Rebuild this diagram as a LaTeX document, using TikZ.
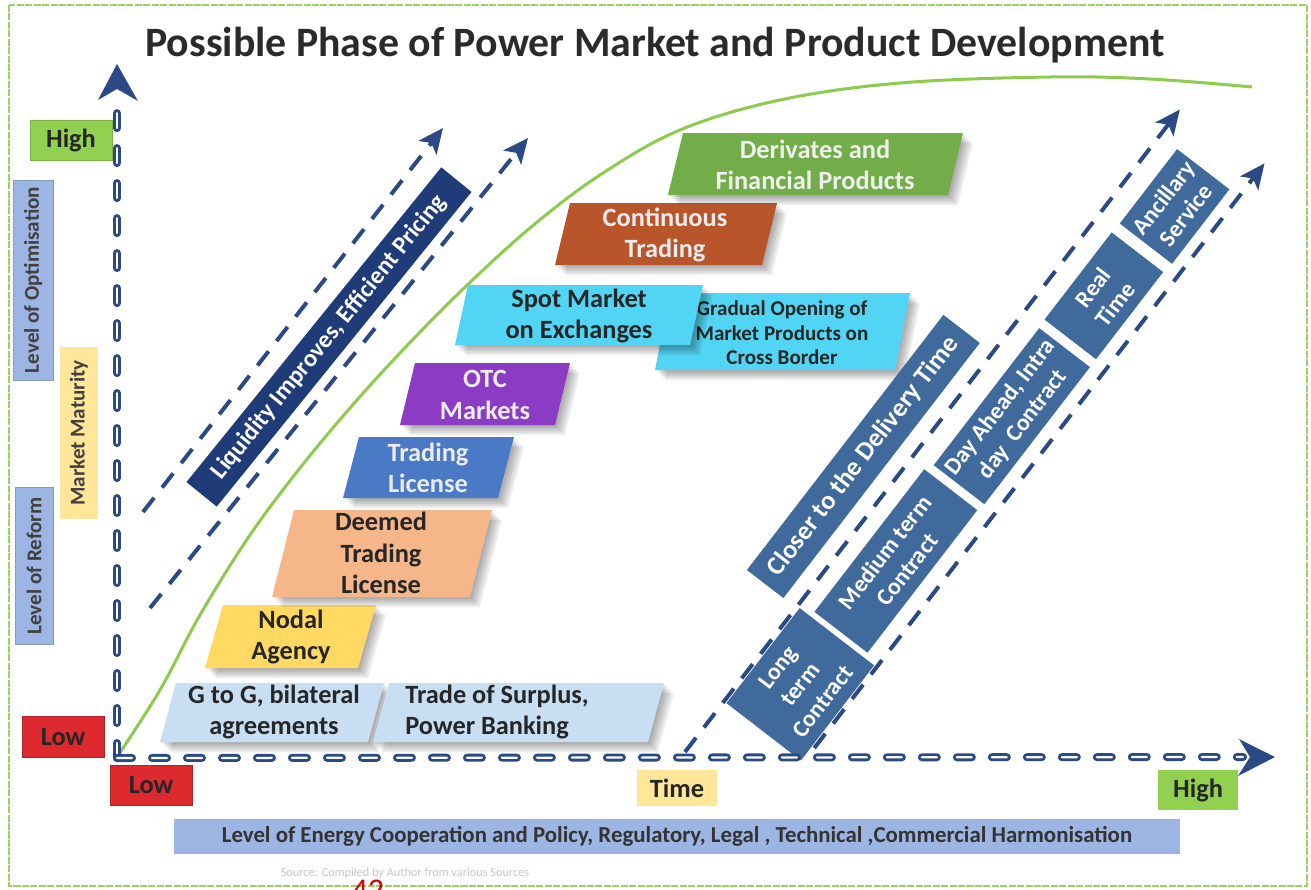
\documentclass[tikz,border=0pt]{standalone}
\usepackage{fontspec}
\setmainfont{Carlito}
\usetikzlibrary{arrows.meta,calc}

\definecolor{navy}{HTML}{2B4A85}
\definecolor{liqnavy}{HTML}{1F3C78}
\definecolor{bandblue}{HTML}{416A9C}
\definecolor{titlegray}{HTML}{2A2A2A}
\definecolor{txtdark}{HTML}{262626}
\definecolor{curvegreen}{HTML}{8CCB4B}
\definecolor{framegreen}{HTML}{9BD35E}
\definecolor{hiGreen}{HTML}{92D050}
\definecolor{loRed}{HTML}{DE2A2E}
\definecolor{paleYellow}{HTML}{FFE699}
\definecolor{periwinkle}{HTML}{9DB5E2}
\definecolor{iceBlue}{HTML}{C8DEF2}
\definecolor{nodalYellow}{HTML}{FFD961}
\definecolor{peach}{HTML}{F5B68A}
\definecolor{licBlue}{HTML}{4A79C6}
\definecolor{otcPurple}{HTML}{8C3CC4}
\definecolor{spotCyan}{HTML}{52D5F4}
\definecolor{rust}{HTML}{B8552B}
\definecolor{leafGreen}{HTML}{72AD49}

\tikzset{
  tag/.style={font=\bfseries\fontsize{15}{17}\selectfont, text=txtdark, inner sep=0pt},
  sidetag/.style={font=\bfseries\fontsize{12}{14}\selectfont, text=black!75, inner sep=0pt, rotate=90},
  boxtext/.style={font=\bfseries\fontsize{15}{18}\selectfont, align=center, inner sep=0pt},
  shadowlayer/.style={black, opacity=0.07},
  axisline/.style={line width=0.16cm, navy, line cap=round, dash pattern=on 0.30cm off 0.40cm},
  axiscore/.style={line width=0.045cm, white, line cap=round, dash pattern=on 0.30cm off 0.40cm},
  diagdash/.style={line width=0.08cm, navy, dash pattern=on 0.36cm off 0.26cm,
    -{Stealth[length=0.5cm, width=0.45cm, inset=0.12cm]}},
  bandtext/.style={font=\bfseries\fontsize{13.5}{16}\selectfont, text=white, align=center, inner sep=0pt, rotate=52.4},
}

% slanted box with a soft layered shadow:
% name, fill, x bottom-left, x bottom-right, y top, y bottom, slant
\newcommand\slantbox[7]{%
  \foreach \d in {2,4,6,8,10}{%
    \fill[shadowlayer] (#3+#7+\d,#5+\d) -- (#4+#7+\d,#5+\d) -- (#4+\d,#6+\d) -- (#3+\d,#6+\d) -- cycle;
  }
  \fill[#2] (#3+#7,#5) -- (#4+#7,#5) -- (#4,#6) -- (#3,#6) -- cycle;
}

\begin{document}
\begin{tikzpicture}[x=0.02cm, y=-0.02cm]
\useasboundingbox (0,0) rectangle (1311,889);
\fill[white] (0,0) rectangle (1311,889);
\draw[framegreen, line width=0.7pt, dash pattern=on 4pt off 0.8pt] (9,5) rectangle (1307,886);

% title
\node[font=\bfseries\fontsize{23.8}{28}\selectfont, text=titlegray] (title) at (655,45)
  {Possible Phase of Power Market and Product Development};

% maturity curve
\draw[curvegreen, line width=0.06cm] plot[smooth, tension=0.6] coordinates {
  (117,757) (160,690) (200,615) (250,535) (300,468) (350,408) (400,353)
  (460,292) (530,228) (600,175) (680,130) (780,100) (900,83) (1050,77)
  (1150,79) (1252,87)};

% liquidity band
\coordinate (la0) at (143,512);
\coordinate (la1) at (443,128);
\coordinate (lb0) at (150,608);
\coordinate (lb1) at (528,138);
\draw[diagdash] (la0) -- (la1);
\draw[diagdash] (lb0) -- (lb1);
\node[fill=liqnavy, text=white, rotate=51, minimum width=8.1cm, minimum height=0.78cm,
  font=\bfseries\fontsize{14}{16}\selectfont, inner sep=0pt] (liq) at (329,337)
  {Liquidity Improves, Efficient Pricing};

% market development steps
\slantbox{gtog}{iceBlue}{160}{368}{683}{742}{16}
\slantbox{surplus}{iceBlue}{373}{648}{683}{742}{16}
\node[boxtext, text=txtdark] (gtogt) at (274,712) {G to G, bilateral\\agreements};
\node[boxtext, text=txtdark, align=left, anchor=west] (surplust) at (405,712) {Trade of Surplus,\\Power Banking};

\slantbox{nodal}{nodalYellow}{205}{358}{605}{668}{18}
\node[boxtext, text=txtdark] (nodalt) at (291,637) {Nodal\\Agency};

\slantbox{deemed}{peach}{272}{470}{510}{597}{22}
\node[boxtext, text=txtdark] (deemedt) at (381,553) {Deemed\\Trading\\License};

\slantbox{lic}{licBlue}{343}{498}{437}{498}{16}
\node[boxtext, text=white!92!black] (lict) at (428,468) {Trading\\License};

\slantbox{otc}{otcPurple}{400}{555}{363}{425}{15}
\node[boxtext, text=white!92!black] (otct) at (485,395) {OTC\\Markets};

\slantbox{gradual}{spotCyan}{655}{895}{293}{370}{15}
\node[boxtext, text=txtdark, font=\bfseries\fontsize{12}{14}\selectfont] (gradualt) at (782,333)
  {Gradual Opening of\\Market Products on\\Cross Border};

\slantbox{spot}{spotCyan}{455}{690}{285}{345}{13}
\node[boxtext, text=txtdark] (spott) at (579,316) {Spot Market\\on Exchanges};

\slantbox{cont}{rust}{555}{762}{203}{265}{15}
\node[boxtext, text=white!92!black] (contt) at (665,235) {Continuous\\Trading};

\slantbox{deriv}{leafGreen}{668}{948}{133}{195}{15}
\node[boxtext, text=white!94!black] (derivt) at (815,165) {Derivates and\\Financial Products};

% delivery-time band
\begin{scope}[shift={(685,752)}, rotate=52.4]
  \coordinate (c0) at (0,0);
  \coordinate (c1) at (811,0);
  \coordinate (d0) at (82,100);
  \coordinate (d1) at (820,100);
  \draw[diagdash] (c0) -- (c1);
  \fill[bandblue] (64,3) rectangle (184,97);
  \fill[bandblue] (190,17) rectangle (370,84);
  \fill[bandblue] (379,22) rectangle (552,86);
  \fill[bandblue] (562,21) rectangle (672,86);
  \fill[bandblue] (684,22) rectangle (778,88);
  \fill[bandblue] (182,-62) rectangle (504,-16);
  \draw[diagdash] (d0) -- (d1);
  \node[bandtext] (longt) at (124,50) {Long\\term\\Contract};
  \node[bandtext] (medt) at (280,50.5) {Medium term\\Contract};
  \node[bandtext] (dayt) at (465.5,54) {Day Ahead, Intra\\day\ \ Contract};
  \node[bandtext] (realt) at (617,53.5) {Real\\Time};
  \node[bandtext] (ancit) at (731,55) {Ancillary\\Service};
  \node[bandtext, font=\bfseries\fontsize{15}{17}\selectfont] (closert) at (343,-39) {Closer to the Delivery Time};
\end{scope}

% axes
\coordinate (O) at (117,758);
\coordinate (ytip) at (117,64);
\coordinate (xtip) at (1275,757);
\draw[axisline] (O) -- ($(ytip)+(0,32)$);
\draw[axiscore] (O) -- ($(ytip)+(0,32)$);
\draw[axisline] (O) -- ($(xtip)+(-32,0)$);
\draw[axiscore] (O) -- ($(xtip)+(-32,0)$);
\fill[navy] (ytip) -- ++(-19,36) -- ++(19,-11) -- ++(21,12) -- cycle;
\fill[navy] (xtip) -- ++(-36,-18) -- ++(11,18) -- ++(-12,19) -- cycle;

% axis labels
\node[tag, fill=hiGreen, draw=hiGreen!85!black, line width=0.4pt, minimum width=1.64cm, minimum height=0.8cm] (yhigh) at (71,140) {High};
\node[sidetag, fill=periwinkle, draw=periwinkle!85!black, line width=0.4pt, minimum width=4.0cm, minimum height=0.8cm] (optim) at (33,280) {Level of Optimisation};
\node[sidetag, fill=paleYellow, minimum width=3.46cm, minimum height=0.78cm] (matur) at (79,433) {Market Maturity};
\node[sidetag, fill=periwinkle, draw=periwinkle!85!black, line width=0.4pt, minimum width=3.14cm, minimum height=0.76cm] (reform) at (34,566) {Level of Reform};
\node[tag, fill=loRed, draw=loRed!80!black, line width=0.4pt, minimum width=1.64cm, minimum height=0.82cm] (ylow) at (63,737) {Low};
\node[tag, fill=loRed, draw=loRed!80!black, line width=0.4pt, minimum width=1.64cm, minimum height=0.8cm] (xlow) at (151,785) {Low};
\node[tag, fill=paleYellow, minimum width=1.6cm, minimum height=0.72cm] (time) at (677,788) {Time};
\node[tag, fill=hiGreen, minimum width=1.6cm, minimum height=0.8cm] (xhigh) at (1198,790) {High};
\node[font=\bfseries\fontsize{13}{15}\selectfont, text=black!80, fill=periwinkle, minimum width=20.12cm, minimum height=0.7cm, inner sep=0pt] (harmon) at (677,836)
  {Level of Energy Cooperation and Policy, Regulatory, Legal , Technical ,Commercial Harmonisation};

% footer
\node[text=black!22, font=\fontsize{7}{8}\selectfont] (src) at (405,873) {Source: Compiled by Author from various Sources};
\node[text=red!85!black, font=\fontsize{18}{20}\selectfont, anchor=north, inner sep=0pt] (pg) at (368,880) {42};
\end{tikzpicture}
\end{document}
